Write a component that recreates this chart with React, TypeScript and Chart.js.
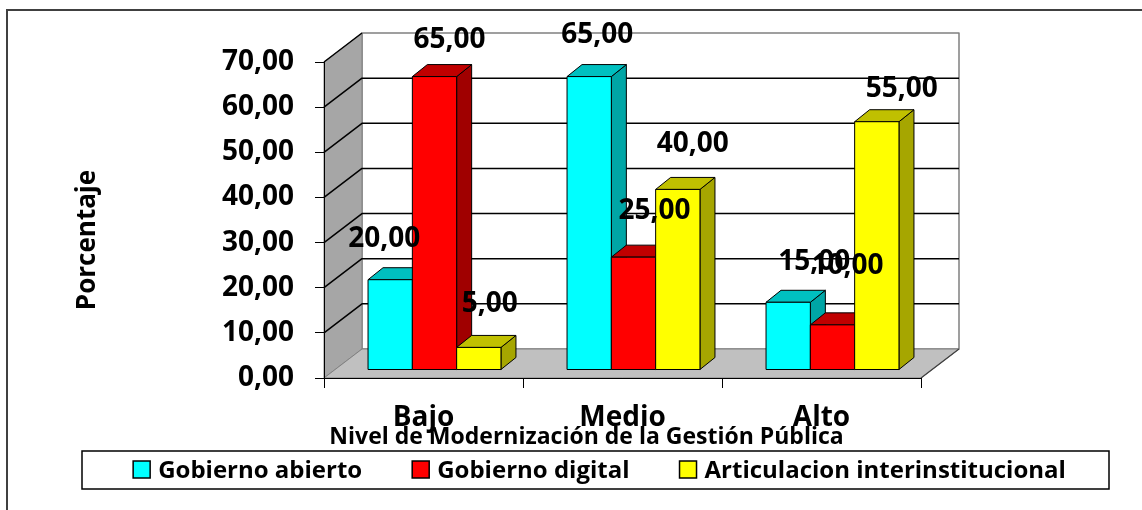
import { useEffect, useRef } from "react";
import { Chart, registerables } from "chart.js";

Chart.register(...registerables);

// ---- data ----
const categories = ["Bajo", "Medio", "Alto"];
const seriesNames = ["Gobierno abierto", "Gobierno digital", "Articulacion interinstitucional"];
const gobiernoAbierto = [20, 65, 15];
const gobiernoDigital = [65, 25, 10];
const articulacion = [5, 40, 55];
const yMin = 0;
const yMax = 70;
const yStep = 10;
const yTitle = "Porcentaje";
const xTitle = "Nivel de Modernización de la Gestión Pública";

// ---- styling ----
const FONT = "'Open Sans', 'DejaVu Sans', sans-serif";
const frontColors = ["#00FFFF", "#FF0000", "#FFFF00"];
const topColors = ["#00C0C0", "#C00000", "#C0C000"];
const sideColors = ["#00A6A6", "#A00000", "#A6A600"];

// projection of the box walls and of the bars standing inside it
const wallDepth = { dx: 38, dy: -29 };
const barShift = { dx: 11, dy: -8 };
const barDepth = { dx: 15, dy: -12 };

// hand-placed value labels: offset [dx, dy] from the top centre of each bar
const labelNudges = [
  [[-6, -41], [8, -42], [26, -40]],
  [[15, -37], [21, -46], [15, -59]],
  [[11, -43], [15, -45], [25, -33]],
];

const fmt = (v: number) => v.toFixed(2).replace(".", ",");

type Pt = [number, number];
function poly(ctx: CanvasRenderingContext2D, pts: Pt[], fill: string, stroke: string, lw: number) {
  ctx.beginPath();
  ctx.moveTo(pts[0][0], pts[0][1]);
  for (let i = 1; i < pts.length; i++) ctx.lineTo(pts[i][0], pts[i][1]);
  ctx.closePath();
  ctx.fillStyle = fill;
  ctx.fill();
  ctx.strokeStyle = stroke;
  ctx.lineWidth = lw;
  ctx.stroke();
}

const scene3d = {
  id: "scene3d",
  beforeDraw(chart: any) {
    const { ctx, chartArea } = chart;
    const { left, right, top, bottom } = chartArea;
    const ys = chart.scales.y;
    const { dx, dy } = wallDepth;
    ctx.save();
    ctx.lineJoin = "round";
    // back wall
    poly(ctx, [[left + dx, top + dy], [right + dx, top + dy], [right + dx, bottom + dy], [left + dx, bottom + dy]], "#FFFFFF", "#808080", 1.5);
    // side wall
    poly(ctx, [[left, top], [left + dx, top + dy], [left + dx, bottom + dy], [left, bottom]], "#A6A6A6", "#808080", 1);
    // floor
    poly(ctx, [[left, bottom], [left + dx, bottom + dy], [right + dx, bottom + dy], [right, bottom]], "#C0C0C0", "#808080", 1);
    // gridlines across the side and back walls
    ctx.strokeStyle = "#000000";
    ctx.lineWidth = 1.5;
    for (let v = yMin + yStep; v <= yMax; v += yStep) {
      const y = ys.getPixelForValue(v);
      ctx.beginPath();
      ctx.moveTo(left, y);
      ctx.lineTo(left + dx, y + dy);
      if (v < yMax) ctx.lineTo(right + dx, y + dy);
      ctx.stroke();
    }
    // floor's right edge
    ctx.strokeStyle = "#404040";
    ctx.lineWidth = 1.2;
    ctx.beginPath();
    ctx.moveTo(right, bottom);
    ctx.lineTo(right + dx, bottom + dy);
    ctx.stroke();
    ctx.restore();
  },
  beforeDatasetsDraw(chart: any) {
    const { ctx } = chart;
    const n = chart.data.datasets.length;
    ctx.save();
    ctx.lineJoin = "miter";
    for (let j = 0; j < categories.length; j++) {
      for (let i = 0; i < n; i++) {
        const el = chart.getDatasetMeta(i).data[j];
        const x0 = el.x - el.width / 2 + barShift.dx;
        const x1 = el.x + el.width / 2 + barShift.dx;
        const yt = el.y + barShift.dy;
        const yb = el.base + barShift.dy;
        const { dx, dy } = barDepth;
        poly(ctx, [[x1, yt], [x1 + dx, yt + dy], [x1 + dx, yb + dy], [x1, yb]], sideColors[i], "#000000", 1);
        poly(ctx, [[x0, yt], [x0 + dx, yt + dy], [x1 + dx, yt + dy], [x1, yt]], topColors[i], "#000000", 1);
        poly(ctx, [[x0, yt], [x1, yt], [x1, yb], [x0, yb]], frontColors[i], "#000000", 1);
      }
    }
    ctx.restore();
    return false;
  },
  afterDraw(chart: any) {
    const { ctx, chartArea } = chart;
    const n = chart.data.datasets.length;
    ctx.save();

    // value labels
    ctx.fillStyle = "#000000";
    ctx.font = `bold 28px ${FONT}`;
    ctx.textAlign = "center";
    ctx.textBaseline = "middle";
    for (let i = 0; i < n; i++) {
      const meta = chart.getDatasetMeta(i);
      const values = chart.data.datasets[i].data as number[];
      meta.data.forEach((el: any, j: number) => {
        const [nx, ny] = labelNudges[i][j];
        ctx.fillText(fmt(values[j]), el.x + barShift.dx + nx, el.y + barShift.dy + ny);
      });
    }

    // axis titles
    ctx.font = `bold 26px ${FONT}`;
    ctx.save();
    ctx.translate(88, (chartArea.top + chartArea.bottom) / 2 + 20);
    ctx.rotate(-Math.PI / 2);
    ctx.fillText(yTitle, 0, 0);
    ctx.restore();

    ctx.font = `bold 23px ${FONT}`;
    ctx.textBaseline = "alphabetic";
    ctx.fillText(xTitle, (chartArea.left + chartArea.right) / 2 - 36, 444);

    // legend
    const box = { l: 82, t: 451, r: 1109, b: 489 };
    ctx.strokeStyle = "#000000";
    ctx.lineWidth = 1.5;
    ctx.strokeRect(box.l, box.t, box.r - box.l, box.b - box.t);
    ctx.font = `bold 24px ${FONT}`;
    ctx.textAlign = "left";
    const sw = 17;
    const gapText = 8;
    const gapItem = 50;
    const widths = chart.data.datasets.map((d: any) => ctx.measureText(d.label).width);
    const total = widths.reduce((a: number, w: number) => a + sw + gapText + w, 0) + gapItem * (n - 1);
    let x = (box.l + box.r) / 2 + 4 - total / 2;
    chart.data.datasets.forEach((d: any, i: number) => {
      ctx.fillStyle = frontColors[i];
      ctx.fillRect(x, 461, sw, sw);
      ctx.strokeStyle = "#000000";
      ctx.lineWidth = 1.5;
      ctx.strokeRect(x, 461, sw, sw);
      ctx.fillStyle = "#000000";
      ctx.fillText(d.label, x + sw + gapText, 478);
      x += sw + gapText + widths[i] + gapItem;
    });

    // outer frame
    ctx.strokeStyle = "#404040";
    ctx.lineWidth = 2;
    ctx.beginPath();
    ctx.moveTo(7, chart.height);
    ctx.lineTo(7, 10);
    ctx.lineTo(chart.width, 10);
    ctx.stroke();

    ctx.restore();
  },
};

export default function App() {
  const ref = useRef<HTMLCanvasElement | null>(null);

  useEffect(() => {
    if (!ref.current) return;
    const chart = new Chart(ref.current, {
      type: "bar",
      data: {
        labels: categories,
        datasets: [
          { label: seriesNames[0], data: gobiernoAbierto, backgroundColor: frontColors[0] },
          { label: seriesNames[1], data: gobiernoDigital, backgroundColor: frontColors[1] },
          { label: seriesNames[2], data: articulacion, backgroundColor: frontColors[2] },
        ],
      },
      options: {
        responsive: false,
        devicePixelRatio: 1,
        animation: false,
        events: [],
        layout: { padding: { left: 0, right: 221, top: 62, bottom: 0 } },
        datasets: { bar: { categoryPercentage: 0.668, barPercentage: 1 } },
        plugins: {
          legend: { display: false },
          title: { display: false },
          tooltip: { enabled: false },
        },
        scales: {
          x: {
            afterFit: (s: any) => { s.height = 132; },
            grid: { drawOnChartArea: false, drawTicks: true, tickLength: 10, color: "#000000", offset: true },
            border: { display: true, color: "#000000", width: 1 },
            ticks: { color: "#000000", padding: 13, font: { family: FONT, size: 28, weight: "bold" } },
          },
          y: {
            min: yMin,
            max: yMax,
            afterFit: (s: any) => { s.width = 324; },
            grid: { drawOnChartArea: false, drawTicks: true, tickLength: 9, color: "#000000" },
            border: { display: true, color: "#000000", width: 1 },
            ticks: {
              stepSize: yStep,
              color: "#000000",
              padding: 21,
              font: { family: FONT, size: 28, weight: "bold" },
              callback: (v: any) => fmt(Number(v)),
            },
          },
        },
      },
      plugins: [scene3d],
    });
    return () => chart.destroy();
  }, []);

  return (
    <div style={{ position: "fixed", left: 0, top: 0, width: 1142, height: 510, background: "#ffffff" }}>
      <canvas ref={ref} width={1142} height={510} style={{ display: "block" }} />
    </div>
  );
}
